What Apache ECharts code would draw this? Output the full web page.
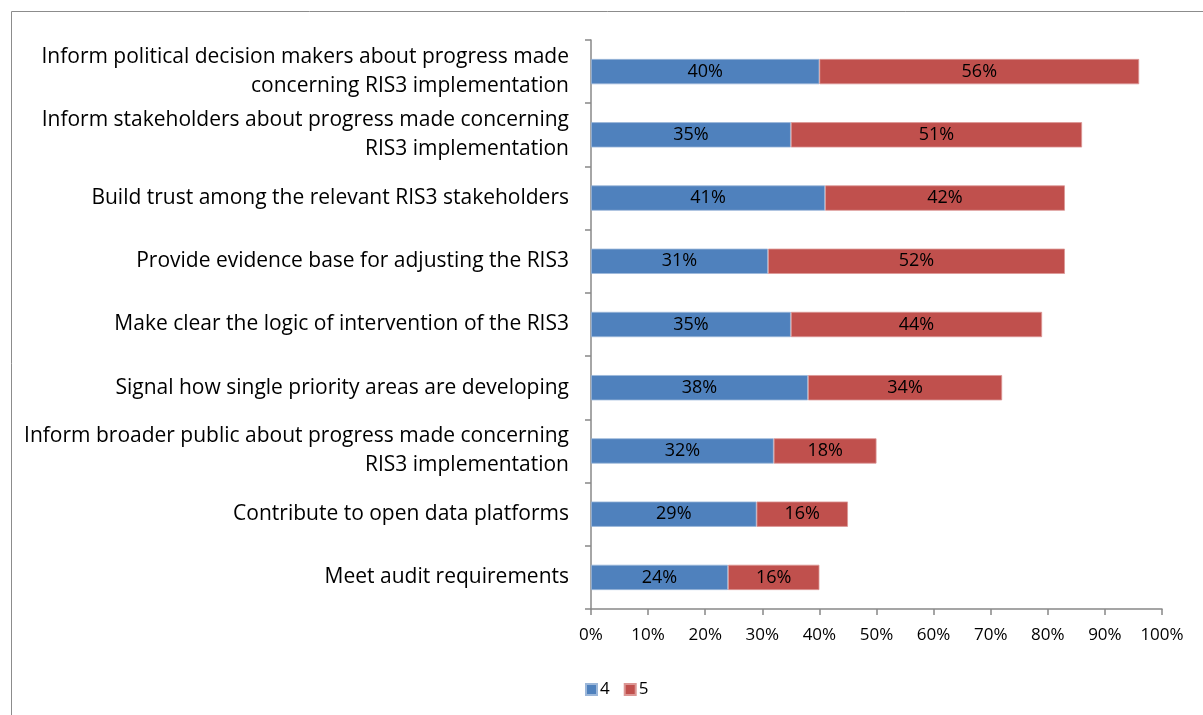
<!DOCTYPE html>
<html>
<head>
<meta charset="utf-8">
<script src="https://cdn.jsdelivr.net/npm/echarts@6/dist/echarts.min.js"></script>
<style>
  html, body { margin: 0; padding: 0; background: #fff; }
  #chart { width: 1203px; height: 715px; }
</style>
</head>
<body>
<div id="chart"></div>
<script>
// Purposes of RIS3 monitoring, listed bottom to top as the category axis draws them
const categories = [
  'Meet audit requirements',
  'Contribute to open data platforms',
  'Inform broader public about progress made concerning\nRIS3 implementation',
  'Signal how single priority areas are developing',
  'Make clear the logic of intervention of the RIS3',
  'Provide evidence base for adjusting the RIS3',
  'Build trust among the relevant RIS3 stakeholders',
  'Inform stakeholders about progress made concerning\nRIS3 implementation',
  'Inform political decision makers about progress made\nconcerning RIS3 implementation'
];
// Share of respondents (%) rating 4 and 5
const score4 = [24, 29, 32, 38, 35, 31, 41, 35, 40];
const score5 = [16, 16, 18, 34, 44, 52, 42, 51, 56];
const seriesNames = ['4', '5'];
const tickValues = [0, 10, 20, 30, 40, 50, 60, 70, 80, 90, 100];

const FONT = '"Open Sans", Lato, sans-serif';

const chart = echarts.init(document.getElementById('chart'), null, { renderer: 'canvas' });

const barLabel = {
  show: true,
  position: 'inside',
  color: '#000',
  fontSize: 18,
  fontFamily: FONT,
  formatter: p => p.value + '%'
};

chart.setOption({
  animation: false,
  backgroundColor: '#fff',
  graphic: [{
    type: 'rect',
    shape: { x: 11.5, y: 11.5, width: 1300, height: 800 },
    style: { fill: 'none', stroke: '#8c8c8c', lineWidth: 1 },
    silent: true
  }],
  grid: { left: 591, right: 41, top: 40, bottom: 106, containLabel: false },
  legend: {
    data: seriesNames,
    left: 580,
    top: 676,
    itemWidth: 11,
    itemHeight: 11,
    itemGap: 14,
    icon: 'rect',
    textStyle: { fontSize: 17, fontFamily: FONT, color: '#000', padding: [0, 0, 0, -2] }
  },
  xAxis: {
    type: 'value',
    min: 0,
    max: 100,
    interval: 10,
    axisLine: { show: true, lineStyle: { color: '#888', width: 1.5 } },
    axisTick: { show: true, inside: false, length: 6, lineStyle: { color: '#888', width: 1.5 } },
    splitLine: { show: false },
    axisLabel: {
      color: '#000',
      fontSize: 17,
      fontFamily: FONT,
      margin: 18,
      formatter: v => tickValues.includes(v) ? v + '%' : ''
    }
  },
  yAxis: {
    type: 'category',
    data: categories,
    axisLine: { show: true, lineStyle: { color: '#888', width: 1.5 } },
    axisTick: { show: true, length: 6, alignWithLabel: false, lineStyle: { color: '#888', width: 1.5 } },
    axisLabel: {
      color: '#000',
      fontSize: 21,
      fontFamily: FONT,
      margin: 22,
      align: 'right',
      lineHeight: 29
    }
  },
  series: [
    {
      name: seriesNames[0],
      type: 'bar',
      stack: 'total',
      data: score4,
      barWidth: '40%',
      itemStyle: { color: '#4F81BD', borderColor: '#9cb7d9', borderWidth: 0.8 },
      label: barLabel
    },
    {
      name: seriesNames[1],
      type: 'bar',
      stack: 'total',
      data: score5,
      barWidth: '40%',
      itemStyle: { color: '#C0504D', borderColor: '#dc9795', borderWidth: 0.8 },
      label: barLabel
    }
  ]
});
</script>
</body>
</html>
